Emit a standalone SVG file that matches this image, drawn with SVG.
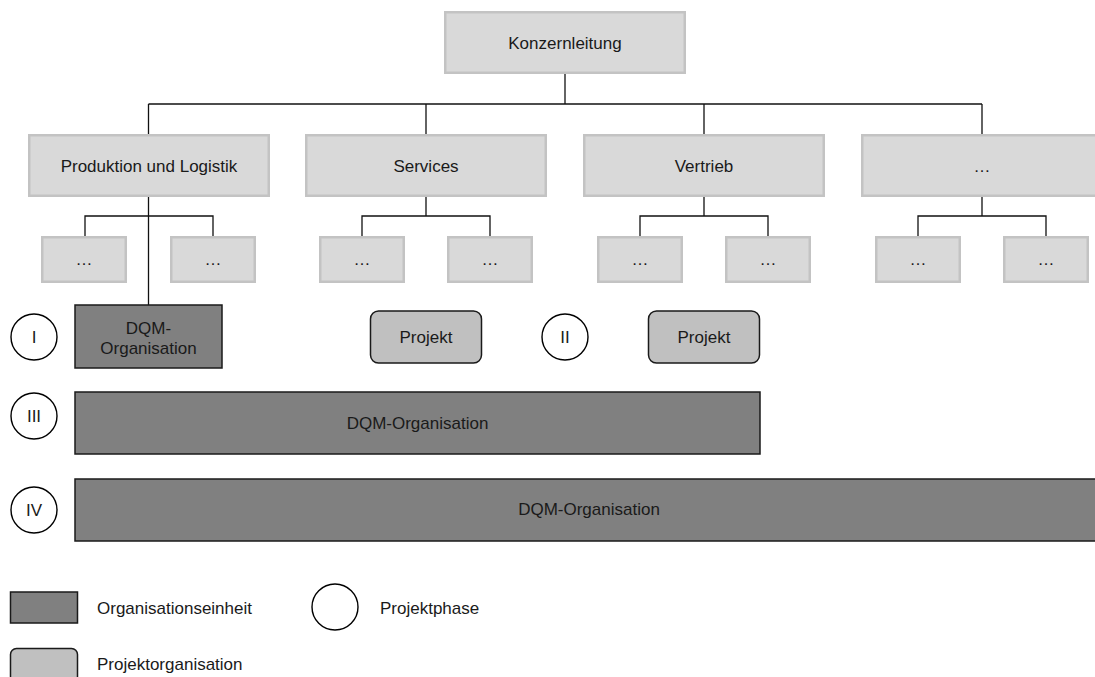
<svg xmlns="http://www.w3.org/2000/svg" width="1095" height="677" viewBox="0 0 1095 677">
  <style>
    text { font-family: "Liberation Sans", Arial, sans-serif; font-size: 17px; fill: #1a1a1a; }
    .mid { text-anchor: middle; }
    .unit { fill: #d9d9d9; stroke: #c3c3c3; stroke-width: 2.5; }
    .org { fill: #808080; stroke: #1a1a1a; stroke-width: 1.5; }
    .proj { fill: #c0c0c0; stroke: #1a1a1a; stroke-width: 1.5; }
    .phase { fill: #ffffff; stroke: #000000; stroke-width: 1.4; }
    .wire { fill: none; stroke: #111111; stroke-width: 1.3; }
  </style>

  <rect width="1095" height="677" fill="#ffffff"/>

  <!-- connectors -->
  <g id="connectors" class="wire">
    <path d="M565,74 V104"/>
    <path d="M148.5,104 H982"/>
    <path d="M148.5,104 V134 M426,104 V134 M704,104 V134 M982,104 V134"/>
    <!-- Produktion und Logistik -->
    <path d="M148.5,197 V305"/>
    <path d="M85,236 V216 H213 V236"/>
    <!-- Services -->
    <path d="M426,197 V216 M362,236 V216 H490 V236"/>
    <!-- Vertrieb -->
    <path d="M704,197 V216 M640,236 V216 H768 V236"/>
    <!-- further unit -->
    <path d="M982,197 V216 M918,236 V216 H1046 V236"/>
  </g>

  <!-- top management -->
  <g id="konzernleitung">
    <rect class="unit" x="445.25" y="12.25" width="239.5" height="60.5"/>
    <text class="mid" x="565" y="49">Konzernleitung</text>
  </g>

  <!-- business units -->
  <g id="produktion">
    <rect class="unit" x="29.25" y="135.25" width="239.5" height="60.5"/>
    <text class="mid" x="149" y="172">Produktion und Logistik</text>
  </g>
  <g id="services">
    <rect class="unit" x="306.25" y="135.25" width="239.5" height="60.5"/>
    <text class="mid" x="426" y="172">Services</text>
  </g>
  <g id="vertrieb">
    <rect class="unit" x="584.25" y="135.25" width="239.5" height="60.5"/>
    <text class="mid" x="704" y="172">Vertrieb</text>
  </g>
  <g id="weitere">
    <rect class="unit" x="862.25" y="135.25" width="239.5" height="60.5"/>
    <text class="mid" x="982" y="172">…</text>
  </g>

  <!-- sub units -->
  <g id="prod-sub-1"><rect class="unit" x="42.25" y="237.25" width="83.5" height="44.5"/><text class="mid" x="84" y="265">…</text></g>
  <g id="prod-sub-2"><rect class="unit" x="171.25" y="237.25" width="83.5" height="44.5"/><text class="mid" x="213" y="265">…</text></g>
  <g id="serv-sub-1"><rect class="unit" x="320.25" y="237.25" width="83.5" height="44.5"/><text class="mid" x="362" y="265">…</text></g>
  <g id="serv-sub-2"><rect class="unit" x="448.25" y="237.25" width="83.5" height="44.5"/><text class="mid" x="490" y="265">…</text></g>
  <g id="vert-sub-1"><rect class="unit" x="598.25" y="237.25" width="83.5" height="44.5"/><text class="mid" x="640" y="265">…</text></g>
  <g id="vert-sub-2"><rect class="unit" x="726.25" y="237.25" width="83.5" height="44.5"/><text class="mid" x="768" y="265">…</text></g>
  <g id="weit-sub-1"><rect class="unit" x="876.25" y="237.25" width="83.5" height="44.5"/><text class="mid" x="918" y="265">…</text></g>
  <g id="weit-sub-2"><rect class="unit" x="1004.25" y="237.25" width="83.5" height="44.5"/><text class="mid" x="1046" y="265">…</text></g>

  <!-- phase I -->
  <g id="phase-1">
    <circle class="phase" cx="34" cy="337" r="23"/>
    <text class="mid" x="34" y="343">I</text>
  </g>
  <g id="dqm-1">
    <rect class="org" x="75" y="305" width="147" height="63"/>
    <text class="mid" x="148.5" y="334">DQM-</text>
    <text class="mid" x="148.5" y="354">Organisation</text>
  </g>
  <g id="projekt-1">
    <rect class="proj" x="370.5" y="311" width="111" height="52" rx="8"/>
    <text class="mid" x="426" y="343">Projekt</text>
  </g>

  <!-- phase II -->
  <g id="phase-2">
    <circle class="phase" cx="565" cy="337" r="23"/>
    <text class="mid" x="565" y="343">II</text>
  </g>
  <g id="projekt-2">
    <rect class="proj" x="648.5" y="311" width="111" height="52" rx="8"/>
    <text class="mid" x="704" y="343">Projekt</text>
  </g>

  <!-- phase III -->
  <g id="phase-3">
    <circle class="phase" cx="34" cy="416" r="23"/>
    <text class="mid" x="34" y="422">III</text>
  </g>
  <g id="dqm-3">
    <rect class="org" x="75" y="392" width="685" height="62"/>
    <text class="mid" x="417.5" y="429">DQM-Organisation</text>
  </g>

  <!-- phase IV -->
  <g id="phase-4">
    <circle class="phase" cx="34" cy="510" r="23"/>
    <text class="mid" x="34" y="516">IV</text>
  </g>
  <g id="dqm-4">
    <rect class="org" x="75" y="479" width="1028" height="62"/>
    <text class="mid" x="589" y="515">DQM-Organisation</text>
  </g>

  <!-- legend -->
  <g id="legend-organisationseinheit">
    <rect class="org" x="10.5" y="592" width="67" height="31"/>
    <text x="97" y="614">Organisationseinheit</text>
  </g>
  <g id="legend-projektphase">
    <circle class="phase" cx="335" cy="607" r="23"/>
    <text x="380" y="614">Projektphase</text>
  </g>
  <g id="legend-projektorganisation">
    <rect class="proj" x="10.5" y="648.5" width="67" height="34" rx="6"/>
    <text x="97" y="670">Projektorganisation</text>
  </g>
</svg>
